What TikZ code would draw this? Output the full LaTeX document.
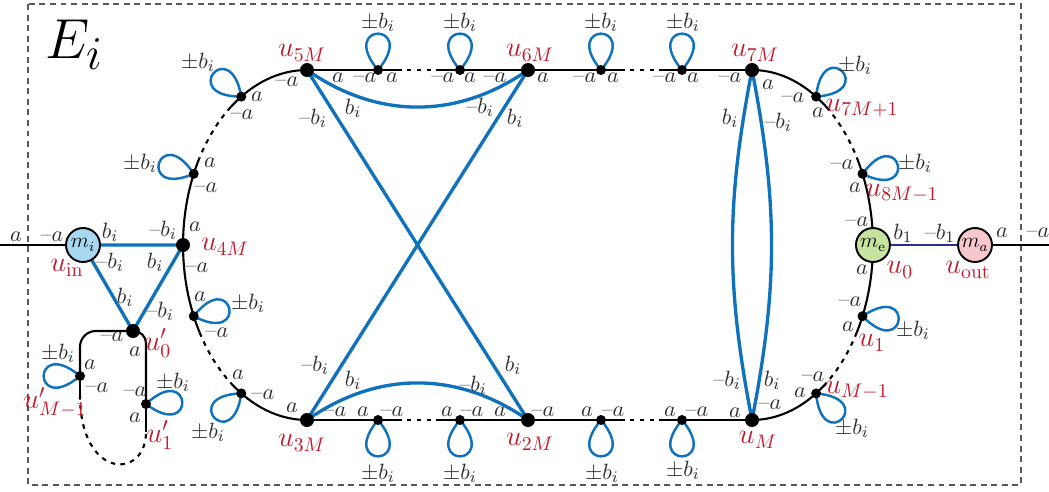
\documentclass[tikz,border=0pt]{standalone}
\usetikzlibrary{calc,backgrounds}
\definecolor{eblue}{RGB}{16,114,189}
\definecolor{ured}{RGB}{192,24,44}
\definecolor{navyline}{RGB}{44,44,150}
\definecolor{labgray}{RGB}{45,45,45}
\definecolor{mifill}{RGB}{168,216,240}
\definecolor{mefill}{RGB}{200,226,160}
\definecolor{mafill}{RGB}{246,200,204}
\newcommand\mnus{\mbox{\textendash}}
\newcommand\selfloop[2]{\draw[loopst] (#1.center) .. controls +({#2-40}:36pt) and +({#2+40}:36pt) .. (#1.center);}
\tikzset{
 bigdot/.style={circle,fill=black,inner sep=0,minimum size=0.28cm},
 smalldot/.style={circle,fill=black,inner sep=0,minimum size=0.2cm},
 mnode/.style={circle,draw=black,line width=1.1pt,inner sep=0,minimum size=0.68cm,font=\fontsize{12}{14}\selectfont},
 edge/.style={line width=1.2pt,black},
 dotedge/.style={line width=1.2pt,black,dash pattern=on 2.6pt off 3pt},
 bedge/.style={line width=1.9pt,eblue,line join=round},
 loopst/.style={line width=1.4pt,eblue},
 lab/.style={inner sep=0,text=labgray,font=\fontsize{10.95}{13}\selectfont,scale=1.15},
 rlab/.style={inner sep=0,text=ured,font=\fontsize{14.4}{16}\selectfont,scale=1.12},
 frame/.style={line width=0.6pt,black!65,dash pattern=on 3.4pt off 2.6pt},
}
\begin{document}
\begin{tikzpicture}[x=0.02cm,y=-0.02cm]
\useasboundingbox (0,0) rectangle (1049,491);
\def\rxL{2.48cm}\def\rxR{2.42cm}\def\ry{3.5cm}
\coordinate (cL) at (307,245);
\coordinate (cR) at (752,245);
\coordinate (inL) at (0,245);
\coordinate (outR) at (1049,245);
% main nodes
\node[bigdot] (u5M) at (307,70) {};
\node[bigdot] (u6M) at (528,70) {};
\node[bigdot] (u7M) at (752,70) {};
\node[bigdot] (u3M) at (307,420) {};
\node[bigdot] (u2M) at (528,420) {};
\node[bigdot] (uM) at (752,420) {};
\node[bigdot] (u4M) at ($(cL)+(180:2.48cm and 3.5cm)$) {};
\node[smalldot] (t1) at (378,70) {};
\node[smalldot] (t2) at (460,70) {};
\node[smalldot] (t3) at (601,70) {};
\node[smalldot] (t4) at (682,70) {};
\node[smalldot] (b1) at (378,420) {};
\node[smalldot] (b2) at (460,420) {};
\node[smalldot] (b3) at (601,420) {};
\node[smalldot] (b4) at (682,420) {};
\node[smalldot] (l1) at ($(cL)+(122:2.48cm and 3.5cm)$) {};
\node[smalldot] (l2) at ($(cL)+(156:2.48cm and 3.5cm)$) {};
\node[smalldot] (l3) at ($(cL)+(204:2.48cm and 3.5cm)$) {};
\node[smalldot] (l4) at ($(cL)+(238:2.48cm and 3.5cm)$) {};
\node[smalldot] (r1) at ($(cR)+(58:2.42cm and 3.5cm)$) {};
\node[smalldot] (r2) at ($(cR)+(24:2.42cm and 3.5cm)$) {};
\node[smalldot] (r3) at ($(cR)+(-24:2.42cm and 3.5cm)$) {};
\node[smalldot] (r4) at ($(cR)+(-58:2.42cm and 3.5cm)$) {};
\node[mnode,fill=mefill] (me) at ($(cR)+(0:2.42cm and 3.5cm)$) {$m_{\mathrm{e}}$};
\node[mnode,fill=mifill] (mi) at (83,245) {$m_i$};
\node[mnode,fill=mafill] (ma) at (975,245) {$m_a$};
\node[bigdot] (u0) at (133,331) {};
\node[smalldot] (uM1) at (80,376) {};
\node[smalldot] (u1p) at (146,404) {};
% dotted-part end points
\coordinate (ta) at (397,70); \coordinate (tb) at (437,70);
\coordinate (tc) at (620,70); \coordinate (td) at (660,70);
\coordinate (ba) at (397,420); \coordinate (bb) at (437,420);
\coordinate (bc) at (620,420); \coordinate (bd) at (660,420);
\coordinate (la) at ($(cL)+(128:2.48cm and 3.5cm)$);
\coordinate (lb) at ($(cL)+(150:2.48cm and 3.5cm)$);
\coordinate (lc) at ($(cL)+(210:2.48cm and 3.5cm)$);
\coordinate (ld) at ($(cL)+(232:2.48cm and 3.5cm)$);
\coordinate (ra) at ($(cR)+(52:2.42cm and 3.5cm)$);
\coordinate (rb) at ($(cR)+(30:2.42cm and 3.5cm)$);
\coordinate (rc) at ($(cR)+(-30:2.42cm and 3.5cm)$);
\coordinate (rd) at ($(cR)+(-52:2.42cm and 3.5cm)$);
\coordinate (qa) at (80,395);
\coordinate (qb) at (146,432);
% title
\node[font=\fontsize{24.88}{28}\selectfont,scale=1.29] (Ei) at (74,45) {$E_i$};
% labels
\foreach \x/\y/\t [count=\k] in {
16/237/{$a$}, 52/237/{$\mnus a$}, 110/232/{$b_i$}, 163/230/{$\mnus b_i$}, 195/227/{$a$},
110/262/{$\mnus b_i$}, 155/262/{$b_i$}, 197/268/{$\mnus a$}, 125/297/{$b_i$}, 160/311/{$\mnus b_i$},
200/297/{$a$}, 248/303/{$\pm b_i$}, 217/333/{$\mnus a$}, 112/337/{$\mnus a$}, 135/352/{$a$},
58/353/{$\pm b_i$}, 90/365/{$a$}, 97/388/{$\mnus a$}, 135/392/{$\mnus a$}, 173/382/{$\pm b_i$},
135/418/{$a$}, 238/375/{$a$}, 263/395/{$\mnus a$}, 208/432/{$\pm b_i$}, 292/408/{$a$},
198/62/{$\pm b_i$}, 257/97/{$a$}, 242/115/{$\mnus a$}, 287/82/{$\mnus a$}, 140/163/{$\pm b_i$},
210/163/{$a$}, 206/188/{$\mnus a$},
338/78/{$a$}, 365/78/{$\mnus a$}, 392/78/{$a$}, 443/78/{$\mnus a$}, 470/78/{$a$}, 495/78/{$\mnus a$},
543/78/{$a$}, 585/78/{$\mnus a$}, 613/78/{$a$}, 665/78/{$\mnus a$}, 693/78/{$a$}, 730/78/{$\mnus a$},
768/85/{$a$},
378/22/{$\pm b_i$}, 460/22/{$\pm b_i$}, 601/22/{$\pm b_i$}, 683/22/{$\pm b_i$},
313/118/{$\mnus b_i$}, 353/108/{$b_i$}, 480/107/{$\mnus b_i$}, 515/118/{$b_i$}, 730/118/{$b_i$}, 778/122/{$\mnus b_i$},
793/98/{$\mnus a$}, 855/65/{$\pm b_i$}, 818/113/{$a$}, 842/165/{$\mnus a$}, 915/163/{$\pm b_i$},
855/188/{$a$}, 857/222/{$\mnus a$}, 903/233/{$b_1$}, 940/233/{$\mnus b_1$}, 1002/233/{$a$},
1038/233/{$\mnus a$}, 862/270/{$a$}, 850/302/{$\mnus a$}, 848/327/{$a$}, 913/330/{$\pm b_i$},
813/377/{$\mnus a$}, 800/393/{$a$}, 852/428/{$\pm b_i$},
315/365/{$\mnus b_i$}, 353/380/{$b_i$}, 473/385/{$\mnus b_i$}, 513/365/{$b_i$}, 727/380/{$\mnus b_i$}, 772/380/{$b_i$},
335/412/{$\mnus a$}, 363/412/{$a$}, 392/412/{$\mnus a$}, 447/412/{$a$}, 472/412/{$\mnus a$}, 500/412/{$a$},
543/412/{$\mnus a$}, 587/412/{$a$}, 613/412/{$\mnus a$}, 670/412/{$a$}, 697/412/{$\mnus a$}, 735/413/{$a$},
770/405/{$\mnus a$},
378/473/{$\pm b_i$}, 460/473/{$\pm b_i$}, 602/473/{$\pm b_i$}, 683/470/{$\pm b_i$}}
{\node[lab] (g\k) at (\x,\y) {\t};}
\foreach \x/\y/\t [count=\k] in {
302/53/{$u_{5M}$}, 530/53/{$u_{6M}$}, 755/53/{$u_{7M}$}, 862/108/{$u_{7M+1}$}, 902/193/{$u_{8M-1}$},
900/270/{$u_0$}, 968/270/{$u_{\mathrm{out}}$}, 872/343/{$u_1$}, 857/390/{$u_{M-1}$}, 758/440/{$u_M$},
530/442/{$u_{2M}$}, 302/443/{$u_{3M}$}, 225/247/{$u_{4M}$}, 67/268/{$u_{\mathrm{in}}$}, 158/343/{$u'_0$},
55/402/{$u'_{M-1}$}, 160/435/{$u'_1$}}
{\node[rlab] (red\k) at (\x,\y) {\t};}
\begin{pgfonlayer}{background}
\draw[frame] (28,4) rectangle (1021,485);
% top row
\draw[edge] (u5M.center) -- (t1.center) -- (ta);
\draw[dotedge] (ta) -- (tb);
\draw[edge] (tb) -- (t2.center) -- (u6M.center) -- (t3.center) -- (tc);
\draw[dotedge] (tc) -- (td);
\draw[edge] (td) -- (t4.center) -- (u7M.center);
% bottom row
\draw[edge] (u3M.center) -- (b1.center) -- (ba);
\draw[dotedge] (ba) -- (bb);
\draw[edge] (bb) -- (b2.center) -- (u2M.center) -- (b3.center) -- (bc);
\draw[dotedge] (bc) -- (bd);
\draw[edge] (bd) -- (b4.center) -- (uM.center);
% left arc
\draw[edge] (u5M.center) arc[start angle=90,end angle=128,x radius=\rxL,y radius=\ry];
\draw[dotedge] (la) arc[start angle=128,end angle=150,x radius=\rxL,y radius=\ry];
\draw[edge] (lb) arc[start angle=150,end angle=210,x radius=\rxL,y radius=\ry];
\draw[dotedge] (lc) arc[start angle=210,end angle=232,x radius=\rxL,y radius=\ry];
\draw[edge] (ld) arc[start angle=232,end angle=270,x radius=\rxL,y radius=\ry];
% right arc
\draw[edge] (u7M.center) arc[start angle=90,end angle=52,x radius=\rxR,y radius=\ry];
\draw[dotedge] (ra) arc[start angle=52,end angle=30,x radius=\rxR,y radius=\ry];
\draw[edge] (rb) arc[start angle=30,end angle=-30,x radius=\rxR,y radius=\ry];
\draw[dotedge] (rc) arc[start angle=-30,end angle=-52,x radius=\rxR,y radius=\ry];
\draw[edge] (rd) arc[start angle=-52,end angle=-90,x radius=\rxR,y radius=\ry];
% left small loop
\draw[edge,rounded corners=9pt] (u0.center) -- (80,331) -- (uM1.center);
\draw[edge] (uM1.center) -- (qa);
\draw[dotedge] (qa) .. controls (80,480) and (146,480) .. (qb);
\draw[edge] (qb) -- (u1p.center);
\draw[edge,rounded corners=7pt] (u1p.center) -- (146,331) -- (u0.center);
% blue edges
\draw[bedge] (u5M.center) to[bend right=35] (u6M.center);
\draw[bedge] (u3M.center) to[bend left=35] (u2M.center);
\draw[bedge] (u5M.center) -- (u2M.center);
\draw[bedge] (u6M.center) -- (u3M.center);
\draw[bedge] (u7M.center) to[bend right=11] (uM.center);
\draw[bedge] (u7M.center) to[bend left=11] (uM.center);
\draw[bedge] (mi.center) -- (u4M.center) -- (u0.center) -- cycle;
\draw[edge] (inL) -- (mi.center);
\draw[line width=1.2pt,navyline] (me.center) -- (ma.center);
\draw[edge] (ma.center) -- (outR);
% self loops
\selfloop{t1}{90}\selfloop{t2}{90}\selfloop{t3}{90}\selfloop{t4}{90}
\selfloop{b1}{270}\selfloop{b2}{270}\selfloop{b3}{270}\selfloop{b4}{270}
\selfloop{l1}{140}\selfloop{l2}{163}\selfloop{l3}{12}\selfloop{l4}{222}
\selfloop{r1}{44}\selfloop{r2}{14}\selfloop{r3}{-6}\selfloop{r4}{-45}
\selfloop{uM1}{180}\selfloop{u1p}{3}
\end{pgfonlayer}
\end{tikzpicture}
\end{document}
